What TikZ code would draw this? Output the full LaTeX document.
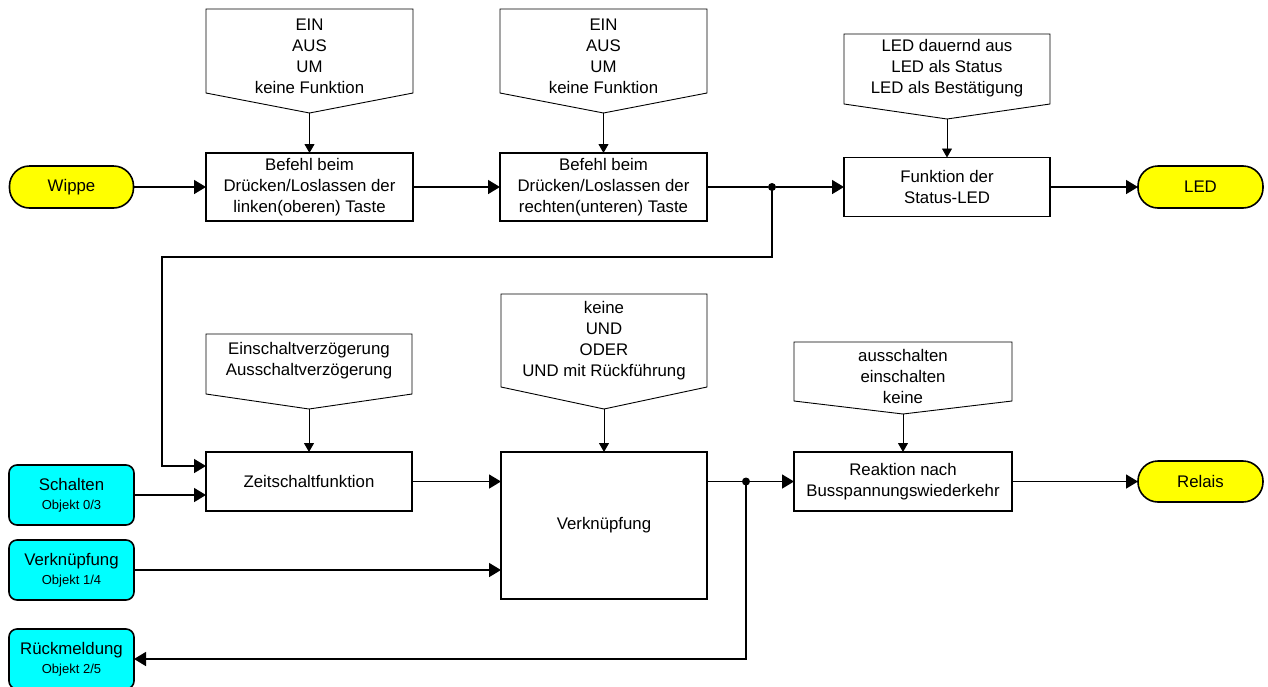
\documentclass[tikz,border=0pt]{standalone}
\usepackage{fontspec}
\setmainfont{Liberation Sans}
\usetikzlibrary{arrows.meta}
\definecolor{aqua}{RGB}{0,255,255}
\definecolor{yel}{RGB}{255,255,0}
\begin{document}
\begin{tikzpicture}[x=1pt,y=-1pt,
  every node/.style={inner sep=0pt, outer sep=0pt},
  txt/.style={font=\fontsize{16.8}{21}\selectfont, align=center},
  proc/.style={txt, draw, line width=1.8pt, fill=white},
  term/.style={txt, draw, line width=1.6pt, fill=yel, rounded corners=20pt},
  obj/.style={txt, draw, line width=1.6pt, fill=aqua, rounded corners=8pt},
  conn/.style={line width=1.5pt, -{Triangle[length=12pt,width=14pt]}},
  callout/.style={draw, line width=0.9pt, fill=white},
  carrow/.style={line width=0.9pt, -{Triangle[length=9pt,width=10pt]}},
  junc/.style={circle, fill=black, minimum size=8pt}
]
\useasboundingbox (0,0) rectangle (1268,686);

% ---------- top row ----------
\node[term, minimum width=124pt, minimum height=42pt] (wippe) at (71.5,187) {Wippe};
\node[proc, minimum width=207pt, minimum height=68pt] (b1) at (309.5,187) {Befehl beim\\Drücken/Loslassen der\\linken(oberen) Taste};
\node[proc, minimum width=207pt, minimum height=68pt] (b2) at (603.5,187) {Befehl beim\\Drücken/Loslassen der\\rechten(unteren) Taste};
\node[proc, minimum width=206pt, minimum height=59pt] (b3) at (947,187) {Funktion der\\Status-LED};
\node[term, minimum width=125pt, minimum height=42pt] (led) at (1200.5,187) {LED};

% ---------- bottom rows ----------
\node[proc, minimum width=206pt, minimum height=59pt] (zeit) at (309,481.5) {Zeitschaltfunktion};
\node[proc, minimum width=206pt, minimum height=147pt] (verk) at (604,525.5) {Verknüpfung};
\node[proc, minimum width=218pt, minimum height=59pt] (reak) at (903,481.5) {Reaktion nach\\Busspannungswiederkehr};
\node[term, minimum width=125pt, minimum height=41pt] (relais) at (1200.5,481.5) {Relais};

\node[obj, minimum width=125pt, minimum height=60pt] (schalten) at (71.5,495) {Schalten\\[-2pt]{\fontsize{13}{16}\selectfont Objekt 0/3}};
\node[obj, minimum width=125pt, minimum height=60pt] (verkobj) at (71.5,570) {Verknüpfung\\[-2pt]{\fontsize{13}{16}\selectfont Objekt 1/4}};
\node[obj, minimum width=125pt, minimum height=60pt] (rueck) at (71.5,659) {Rückmeldung\\[-2pt]{\fontsize{13}{16}\selectfont Objekt 2/5}};

% ---------- callouts ----------
\draw[callout] (206,9) -- (413,9) -- (413,93) -- (309.5,113) -- (206,93) -- cycle;
\node[txt] (c1t) at (309.5,56) {EIN\\AUS\\UM\\keine Funktion};
\coordinate (c1) at (309.5,113);

\draw[callout] (500,9) -- (707,9) -- (707,93) -- (603.5,113) -- (500,93) -- cycle;
\node[txt] (c2t) at (603.5,56) {EIN\\AUS\\UM\\keine Funktion};
\coordinate (c2) at (603.5,113);

\draw[callout] (844,34) -- (1050,34) -- (1050,104) -- (947,119) -- (844,104) -- cycle;
\node[txt] (c3t) at (947,68.5) {LED dauernd aus\\LED als Status\\LED als Bestätigung};
\coordinate (c3) at (947,119);

\draw[callout] (206,334) -- (412,334) -- (412,394) -- (309,409) -- (206,394) -- cycle;
\node[txt] (c4t) at (309,361) {Einschaltverzögerung\\Ausschaltverzögerung};
\coordinate (c4) at (309,409);

\draw[callout] (501,294) -- (707,294) -- (707,387) -- (604,409) -- (501,387) -- cycle;
\node[txt] (c5t) at (604,340.5) {keine\\UND\\ODER\\UND mit Rückführung};
\coordinate (c5) at (604,409);

\draw[callout] (794,342) -- (1012,342) -- (1012,401) -- (903,414) -- (794,401) -- cycle;
\node[txt] (c6t) at (903,376) {ausschalten\\einschalten\\keine};
\coordinate (c6) at (903,414);

\draw[carrow] (c1) -- (c1 |- b1.north);
\draw[carrow] (c2) -- (c2 |- b2.north);
\draw[carrow] (c3) -- (c3 |- b3.north);
\draw[carrow] (c4) -- (c4 |- zeit.north);
\draw[carrow] (c5) -- (c5 |- verk.north);
\draw[carrow] (c6) -- (c6 |- reak.north);

% ---------- junctions ----------
\node[junc] (j1) at (772,187) {};
\node[junc] (j2) at (746,481.5) {};
\coordinate (l2) at (162,257);
\coordinate (zin1) at ([yshift=15.5pt]zeit.west);

% ---------- connectors ----------
\draw[conn] (wippe) -- (b1);
\draw[conn] (b1) -- (b2);
\draw[line width=1.5pt] (b2.east) -- (j1);
\draw[conn] (j1) -- (b3);
\draw[conn] (b3) -- (led);
\draw[conn] (j1.center) |- (l2) |- (zin1);
\draw[conn] (schalten.east) -- (schalten.east -| zeit.west);
\draw[conn] (zeit.east) -- (zeit.east -| verk.west);
\draw[conn] (verkobj.east) -- (verkobj.east -| verk.west);
\draw[line width=1.5pt] (verk.east |- j2) -- (j2);
\draw[conn] (j2) -- (reak);
\draw[conn] (reak) -- (relais);
\draw[conn] (j2.center) |- (rueck.east);
\end{tikzpicture}
\end{document}
